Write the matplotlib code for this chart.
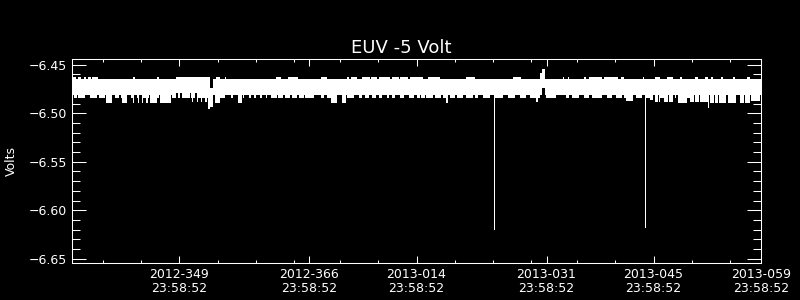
import matplotlib
matplotlib.use('Agg')
import matplotlib.pyplot as plt
from matplotlib.ticker import FixedLocator, MultipleLocator, FuncFormatter

# ---- data (time in days relative to 2012-366 23:58:52, volts) ----
title = "EUV -5 Volt"
ylabel = "Volts"

major_t = [-17, 0, 14, 31, 45, 59]
major_labels = ["2012-349\n23:58:52", "2012-366\n23:58:52", "2013-014\n23:58:52",
                "2013-031\n23:58:52", "2013-045\n23:58:52", "2013-059\n23:58:52"]
minor_t = [-27, -22, -12, -7, -2, 4, 9, 19, 24, 29, 35, 40, 50, 55]
y_major = [-6.65, -6.60, -6.55, -6.50, -6.45]

# main band segments
core_start = [-31.0, -17.45, -13.25, -13.05, -12.55, 30.2, 30.45, 30.8]
core_end = [-17.45, -13.25, -13.05, -12.55, 30.2, 30.45, 30.8, 59.0]
core_top = [-6.4647, -6.4630, -6.4630, -6.4735, -6.4647, -6.4589, -6.4544, -6.4647]
core_bot = [-6.4809, -6.4795, -6.4957, -6.4940, -6.4809, -6.4809, -6.4735, -6.4809]

# upper fringe excursions
UP1 = -6.4630
up_start = [-31.0, -30.2, -29.5, -28.9, -28.4, -23.0, -19.9, -12.2, -11.05, -4.4, -2.8,
            1.45, 4.9, 5.4, 6.9, 8.1, 9.1, 10.8, 11.9, 13.1, 15.5, 20.5, 26.6, 33.1,
            33.75, 35.9, 36.55, 38.5, 40.7, 43.55, 45.15, 46.7, 48.4, 50.4, 51.7, 52.55,
            53.85, 55.4, 57.15]
up_end = [-30.5, -29.8, -29.2, -28.5, -27.6, -22.8, -19.7, -11.7, -10.9, -3.7, -1.5,
          2.3, 5.15, 6.25, 7.9, 8.9, 10.5, 11.7, 12.9, 14.8, 17.05, 21.6, 27.7, 33.3,
          33.95, 36.1, 38.3, 40.3, 41.15, 43.75, 45.8, 47.55, 48.65, 50.8, 52.1, 52.8,
          54.05, 55.6, 57.55]

# lower fringe excursions (level 1)
DN1 = -6.4843
dn1_start = [-30.84, -30.27, -28.67, -27.57, -26.35, -25.4, -24.61, -23.31, -22.56, -21.91,
             -20.6, -19.52, -17.99, -17.2, -16.68, -15.5, -14.7, -14.0, -12.4, -10.2, -9.4,
             -8.7, -7.9, -7.2, -6.5, -5.7, -5.0, -4.1, -3.2, -2.3, -1.4, -0.6, 1.45, 2.31,
             4.27, 4.93, 6.46, 7.33, 8.2, 9.07, 10.16, 10.81, 11.9, 12.99, 14.08, 14.6, 15.3,
             16.4, 17.4, 18.35, 19.3, 20.53, 21.62, 22.71, 24.24, 25.97, 27.5, 28.81, 29.82,
             30.9, 33.52, 34.39, 35.91, 37.0, 38.97, 40.05, 41.14, 42.67, 43.97, 45.9, 47.76,
             49.3]
dn1_end = [-30.41, -29.32, -27.79, -26.71, -26.05, -24.95, -23.87, -22.99, -22.34, -21.03,
           -19.73, -18.42, -17.45, -16.9, -15.59, -14.9, -14.2, -13.3, -11.1, -10.0, -9.1,
           -8.5, -7.6, -7.0, -6.2, -5.5, -4.3, -3.5, -2.5, -1.6, -0.7, 0.58, 1.88, 3.62,
           4.72, 5.8, 6.89, 7.76, 8.64, 9.5, 10.38, 11.25, 12.34, 13.65, 14.52, 15.1, 16.2,
           17.2, 17.9, 19.0, 20.1, 21.4, 22.05, 23.58, 25.32, 26.85, 28.38, 29.69, 30.2,
           32.2, 33.95, 35.26, 36.56, 38.31, 39.62, 40.93, 41.36, 43.54, 44.5, 46.3, 47.99,
           49.73]

# deeper lower excursions
dn2_start = [-26.6, -24.5, -23.1, -22.45, -21.95, -21.3, -20.8, -19.55, -15.4, -14.7, -14.2,
             -13.7, -12.35, -9.35, 2.76, 4.27, 17.92, 29.6, 41.36, 44.5, 45.15, 45.75, 46.3,
             47.0, 48.2, 49.73, 50.4, 51.1, 52.12, 52.34, 53.0, 53.6, 54.73, 56.26, 57.0,
             57.79]
dn2_end = [-25.8, -23.9, -22.95, -22.3, -21.8, -21.1, -19.95, -18.1, -15.25, -14.6, -14.05,
           -13.4, -11.7, -8.8, 3.62, 4.72, 18.13, 29.82, 42.24, 44.93, 45.6, 45.9, 46.85,
           47.54, 49.3, 50.25, 50.9, 52.12, 52.25, 52.85, 53.4, 54.52, 55.83, 56.85, 57.57,
           58.88]
dn2_level = [-6.4890, -6.4890, -6.4890, -6.4890, -6.4890, -6.4890, -6.4890, -6.4890, -6.4880,
             -6.4880, -6.4880, -6.4880, -6.4890, -6.4890, -6.4890, -6.4890, -6.4892, -6.4885,
             -6.4871, -6.4860, -6.4885, -6.4885, -6.4885, -6.4885, -6.4896, -6.4885, -6.4885,
             -6.4885, -6.4941, -6.4896, -6.4896, -6.4896, -6.4896, -6.4896, -6.4896, -6.4871]

# isolated long drop-outs
spike_t = [24.17, 43.9]
spike_v = [-6.6197, -6.6176]

# ---- figure ----
W, H = 800, 300
fig = plt.figure(figsize=(8, 3), dpi=100, facecolor='black')
x0, x1, y0, y1 = 72.3, 760.7, 59.3, 263.3
ax = fig.add_axes([x0 / W, 1 - y1 / H, (x1 - x0) / W, (y1 - y0) / H])
ax.set_facecolor('black')
ax.set_xlim(-31, 59)
ax.set_ylim(-6.6547, -6.4444)

kw = dict(align='edge', color='white', linewidth=0, antialiased=False)
ax.bar(core_start, [t - b for t, b in zip(core_top, core_bot)],
       width=[e - s for s, e in zip(core_start, core_end)], bottom=core_bot, **kw)
UP_BASE = -6.470
ax.bar(up_start, [UP1 - UP_BASE] * len(up_start),
       width=[e - s for s, e in zip(up_start, up_end)], bottom=UP_BASE, **kw)
DN_BASE = -6.475
ax.bar(dn1_start, [DN1 - DN_BASE] * len(dn1_start),
       width=[e - s for s, e in zip(dn1_start, dn1_end)], bottom=DN_BASE, **kw)
ax.bar(dn2_start, [lv - DN_BASE for lv in dn2_level],
       width=[e - s for s, e in zip(dn2_start, dn2_end)], bottom=DN_BASE, **kw)
ax.vlines(spike_t, -6.470, spike_v, colors='white', linewidth=0.6, antialiased=False)

for s in ax.spines.values():
    s.set_color('white')
    s.set_linewidth(0.75)

ax.xaxis.set_major_locator(FixedLocator(major_t))
ax.set_xticklabels(major_labels)
ax.xaxis.set_minor_locator(FixedLocator(minor_t))
ax.yaxis.set_major_locator(FixedLocator(y_major))
ax.yaxis.set_major_formatter(FuncFormatter(lambda v, p: f"{v:.2f}".replace('-', '\u2212')))
ax.yaxis.set_minor_locator(MultipleLocator(0.01))

ax.tick_params(axis='x', which='major', direction='in', length=4.8, width=0.75,
               colors='white', top=True, labelsize=9, pad=3.5)
ax.tick_params(axis='x', which='minor', direction='in', length=2.4, width=0.75,
               colors='white', top=True)
ax.tick_params(axis='y', which='major', direction='in', length=10, width=0.75,
               colors='white', right=True, labelsize=9, pad=3.6)
ax.tick_params(axis='y', which='minor', direction='in', length=5.5, width=0.75,
               colors='white', right=True)
for lab in ax.get_xticklabels():
    lab.set_linespacing(1.05)

fig.text(401 / W, 1 - 53.3 / H, title, color='white', fontsize=13,
         ha='center', va='baseline')
fig.text(11.7 / W, 1 - 161 / H, ylabel, color='white', fontsize=9,
         rotation=90, ha='center', va='center')

fig.savefig('out.png', dpi=100, facecolor='black')
